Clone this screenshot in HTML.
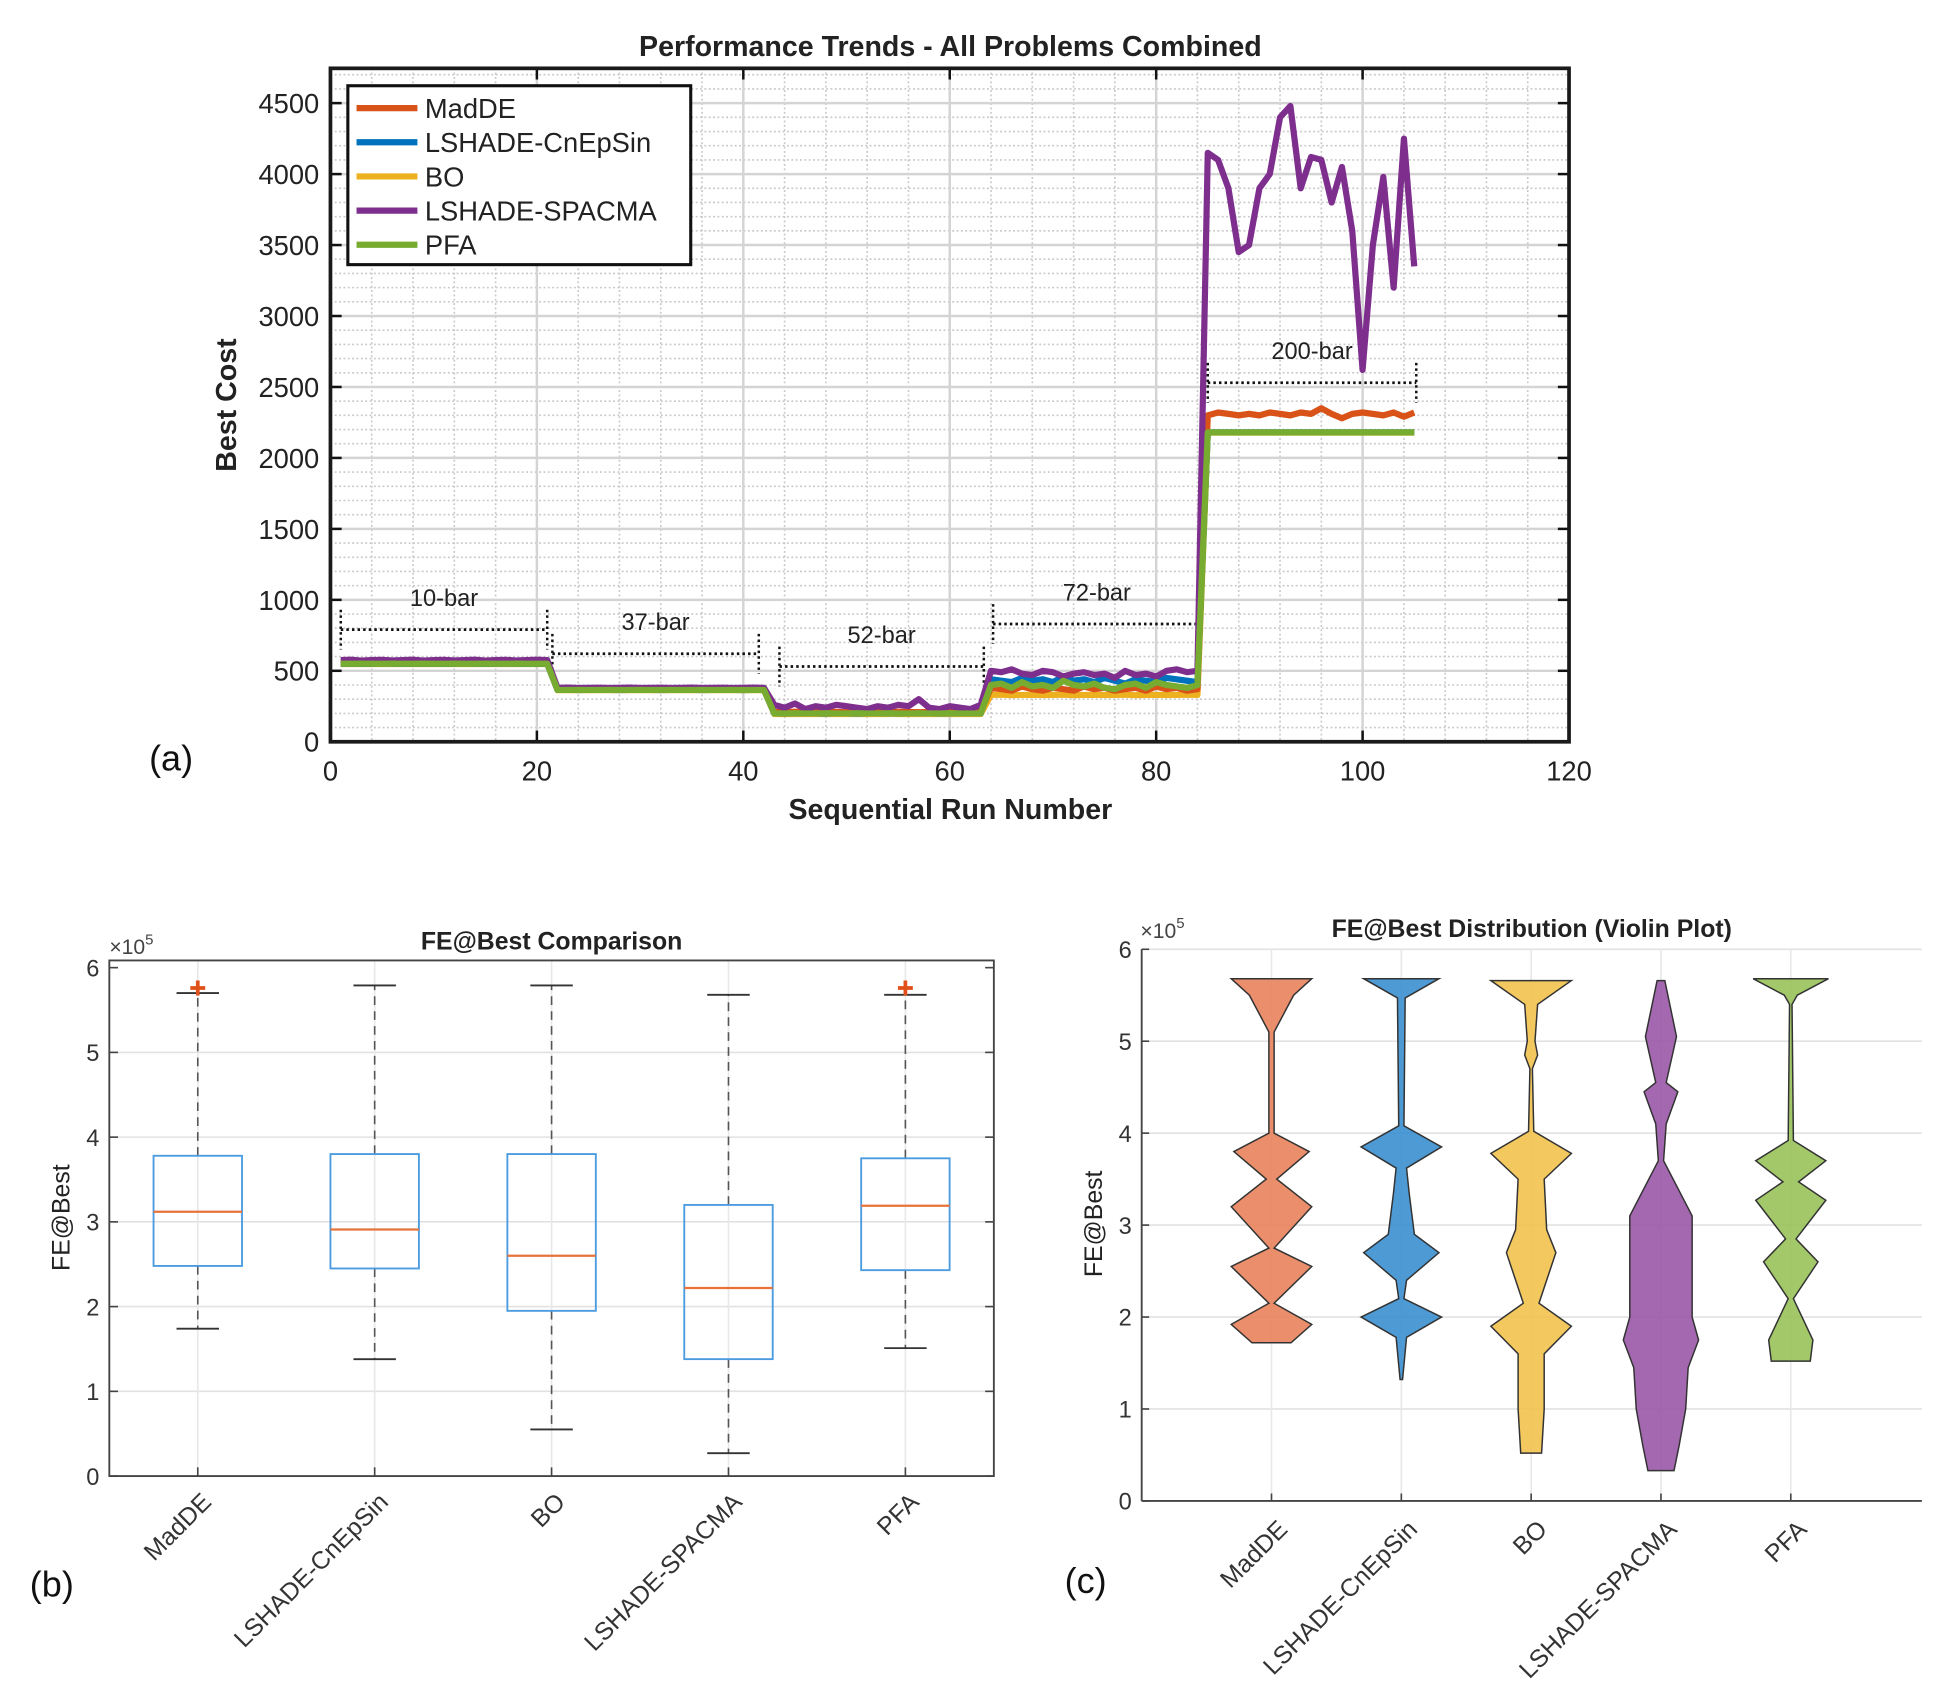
<!DOCTYPE html>
<html><head><meta charset="utf-8"><style>
html,body{margin:0;padding:0;background:#fff;}
svg{display:block;font-family:"Liberation Sans",Arial,sans-serif;}
</style></head><body>
<svg id="fig" width="1938" height="1696" viewBox="0 0 1560 1365" preserveAspectRatio="none" xmlns="http://www.w3.org/2000/svg">
<g id="pa"></g>
<g id="pb"></g>
<g id="pc"></g>
</svg>
<script>
// ===== Panel (a) data =====
const seriesNames = ["MadDE","LSHADE-CnEpSin","BO","LSHADE-SPACMA","PFA"];
const seriesColors = ["#D95319","#0072BD","#EDB120","#7E2F8E","#77AC30"];
const xTicksA = [0,20,40,60,80,100,120];
const yTicksA = [0,500,1000,1500,2000,2500,3000,3500,4000,4500];
const madde = [560,562,558,560,561,559,560,562,560,558,560,561,560,559,562,560,558,560,561,560,560,
 370,371,369,370,372,370,369,370,371,370,369,370,372,370,369,370,371,370,369,370,370,
 210,208,212,210,209,211,210,208,210,212,210,209,211,210,208,210,212,210,209,211,210,
 380,370,360,390,370,360,380,370,360,390,370,380,360,370,380,360,390,370,380,360,370,
 2300,2320,2310,2300,2310,2300,2320,2310,2300,2320,2310,2350,2310,2280,2310,2320,2310,2300,2320,2290,2320];
const cnepsin = [550,551,549,550,552,550,549,550,551,550,549,550,552,550,549,550,551,550,549,550,550,
 365,366,364,365,366,365,364,365,366,365,364,365,366,365,364,365,366,365,364,365,365,
 200,199,201,200,200,199,201,200,199,200,201,200,199,200,201,200,199,200,201,200,200,
 440,430,420,450,430,440,420,460,430,440,420,450,430,410,440,430,420,450,440,430,420,
 2180,2180,2180,2180,2180,2180,2180,2180,2180,2180,2180,2180,2180,2180,2180,2180,2180,2180,2180,2180,2180];
const bo = [548,548,549,548,548,549,548,548,549,548,548,549,548,548,549,548,548,549,548,548,548,
 363,363,364,363,363,364,363,363,364,363,363,364,363,363,364,363,363,364,363,363,363,
 195,195,196,195,195,196,195,195,196,195,195,196,195,195,196,195,195,196,195,195,195,
 330,332,328,330,331,329,330,332,328,330,331,329,330,332,328,330,331,329,330,332,330,
 2178,2178,2178,2178,2178,2178,2178,2178,2178,2178,2178,2178,2178,2178,2178,2178,2178,2178,2178,2178,2178];
const spacma = [575,578,572,575,577,573,575,578,572,575,577,573,575,578,572,575,577,573,575,578,575,
 380,382,379,380,381,379,380,382,379,380,381,379,380,382,379,380,381,379,380,382,380,
 260,240,270,230,250,240,260,250,240,230,250,240,260,250,300,240,230,250,240,230,260,
 500,490,510,480,470,500,490,460,480,490,470,480,450,500,470,480,460,500,510,490,500,
 4150,4100,3900,3450,3500,3900,4000,4400,4480,3900,4120,4100,3800,4050,3600,2620,3500,3980,3200,4250,3350];
const pfa = [550,550,551,550,550,551,550,550,551,550,550,551,550,550,551,550,550,551,550,550,550,
 365,365,366,365,365,366,365,365,366,365,365,366,365,365,366,365,365,366,365,365,365,
 200,200,201,200,200,201,200,200,201,200,200,201,200,200,201,200,200,201,200,200,200,
 400,410,380,420,390,400,380,430,400,390,410,380,370,400,410,380,420,400,390,380,400,
 2180,2180,2180,2180,2180,2180,2180,2180,2180,2180,2180,2180,2180,2180,2180,2180,2180,2180,2180,2180,2180];
const bracketLabels = ["10-bar","37-bar","52-bar","72-bar","200-bar"];
const bracketStart = [1,21.5,43.5,64.2,85];
const bracketEnd = [21,41.5,63.3,84.3,105.2];
const bracketLevel = [790,620,530,830,2530];

// ===== Panel (b) data (x1e5) =====
const algs = ["MadDE","LSHADE-CnEpSin","BO","LSHADE-SPACMA","PFA"];
const q1 = [2.48,2.45,1.95,1.38,2.43];
const med = [3.12,2.91,2.60,2.22,3.19];
const q3 = [3.78,3.80,3.80,3.20,3.75];
const wLo = [1.74,1.38,0.55,0.27,1.51];
const wHi = [5.70,5.79,5.79,5.68,5.68];
const outliers = [[5.76],[],[],[],[5.76]];
const yTicksB = [0,1,2,3,4,5,6];

// ===== Panel (c) data =====
const violinY = [
 [5.68,5.5,5.1,4.0,3.8,3.5,3.2,2.75,2.55,2.15,1.92,1.72],
 [5.68,5.47,4.08,3.85,3.62,3.35,2.9,2.7,2.4,2.2,2.0,1.78,1.32],
 [5.66,5.4,5.0,4.85,4.7,4.02,3.78,3.5,2.95,2.7,2.15,1.9,1.6,1.0,0.52],
 [5.66,5.05,4.55,4.45,4.1,3.7,3.1,2.0,1.75,1.45,1.0,0.6,0.33],
 [5.68,5.5,5.4,3.92,3.7,3.47,3.27,2.85,2.6,2.2,1.75,1.52]];
const violinW = [
 [0.31,0.17,0.02,0.02,0.29,0.04,0.31,0.02,0.31,0.02,0.31,0.15],
 [0.29,0.03,0.02,0.31,0.04,0.06,0.1,0.29,0.04,0.02,0.31,0.04,0.01],
 [0.31,0.05,0.03,0.05,0.01,0.02,0.31,0.1,0.12,0.19,0.06,0.31,0.1,0.1,0.08],
 [0.03,0.12,0.04,0.13,0.04,0.02,0.24,0.24,0.29,0.21,0.19,0.14,0.1],
 [0.29,0.05,0.01,0.02,0.27,0.06,0.27,0.04,0.21,0.02,0.17,0.15]];
const violinFill = ["#E8825C","#3A8FD0","#F2C24E","#9A58A8","#98C25A"];

const NS="http://www.w3.org/2000/svg";
function mk(parent,tag,attrs,txt){const e=document.createElementNS(NS,tag);for(const k in attrs)e.setAttribute(k,attrs[k]);if(txt!==undefined)e.textContent=txt;parent.appendChild(e);return e;}

// ---------- Panel A ----------
const pa=document.getElementById('pa');
const xA=v=>266+v*(997/120), yA=v=>597-v*(514/4500);
const AT=55,AB=597,AL=266,AR=1263;
for(let v=4;v<120;v+=4){if(v%20){const l=mk(pa,'line',{x1:xA(v),x2:xA(v),y1:AT,y2:AB,stroke:'#c8c8c8','stroke-width':1.3,'stroke-dasharray':'1.5 2'});}}
for(let v=100;v<4750;v+=100){if(v%500){const l=mk(pa,'line',{x1:AL,x2:AR,y1:yA(v),y2:yA(v),stroke:'#c8c8c8','stroke-width':1.3,'stroke-dasharray':'1.5 2'});}}
xTicksA.forEach(v=>{const l=mk(pa,'line',{x1:xA(v),x2:xA(v),y1:AT,y2:AB,stroke:'#d4d4d4','stroke-width':2});
 mk(pa,'line',{x1:xA(v),x2:xA(v),y1:AB,y2:AB-9,stroke:'#111','stroke-width':2});mk(pa,'line',{x1:xA(v),x2:xA(v),y1:AT,y2:AT+9,stroke:'#111','stroke-width':2});
 const t=mk(pa,'text',{x:xA(v),y:628,'text-anchor':'middle','font-size':22,fill:'#222'},v);});
yTicksA.forEach(v=>{const l=mk(pa,'line',{x1:AL,x2:AR,y1:yA(v),y2:yA(v),stroke:'#d4d4d4','stroke-width':2});
 mk(pa,'line',{x1:AL,x2:AL+9,y1:yA(v),y2:yA(v),stroke:'#111','stroke-width':2});mk(pa,'line',{x1:AR,x2:AR-9,y1:yA(v),y2:yA(v),stroke:'#111','stroke-width':2});
 const t=mk(pa,'text',{x:257,y:yA(v)+8,'text-anchor':'end','font-size':22,fill:'#222'},v);});
// brackets
bracketLabels.forEach((lab,i)=>{const g=mk(pa,'g',{});
 const x1=xA(bracketStart[i]),x2=xA(bracketEnd[i]),y=yA(bracketLevel[i]);
 mk(g,'line',{x1:x1,x2:x2,y1:y,y2:y,stroke:'#111','stroke-width':2.2,'stroke-dasharray':'2 2.5'});
 mk(g,'line',{x1:x1,x2:x1,y1:y-16,y2:y+16,stroke:'#111','stroke-width':2,'stroke-dasharray':'2 2.5'});
 mk(g,'line',{x1:x2,x2:x2,y1:y-16,y2:y+16,stroke:'#111','stroke-width':2,'stroke-dasharray':'2 2.5'});
 mk(g,'text',{x:(x1+x2)/2,y:y-19,'text-anchor':'middle','font-size':19,fill:'#222'},lab);});
// series
const allSeries=[madde,cnepsin,bo,spacma,pfa];
const drawOrder=[2,1,0,3,4];
drawOrder.forEach(si=>{const d=allSeries[si].map((v,i)=>(i?'L':'M')+xA(i+1).toFixed(1)+' '+yA(v).toFixed(1)).join(' ');
 const p=mk(pa,'path',{d:d,fill:'none',stroke:seriesColors[si],'stroke-width':5,'stroke-linejoin':'round'});
 });
mk(pa,'rect',{x:AL,y:AT,width:AR-AL,height:AB-AT,fill:'none',stroke:'#1a1a1a','stroke-width':3});
// legend
const lg=mk(pa,'g',{});
mk(lg,'rect',{x:280,y:69,width:276,height:144,fill:'#fff',stroke:'#111','stroke-width':2.5});
seriesNames.forEach((n,i)=>{const y=87+i*27.5;const e=mk(lg,'g',{});
 mk(e,'line',{x1:287,x2:336,y1:y,y2:y,stroke:seriesColors[i],'stroke-width':5});
 mk(e,'text',{x:342,y:y+8,'font-size':22,fill:'#222'},n);});
let t;
t=mk(pa,'text',{x:765,y:45,'text-anchor':'middle','font-size':23,'font-weight':'bold',fill:'#222'},'Performance Trends - All Problems Combined');
t=mk(pa,'text',{x:765,y:659,'text-anchor':'middle','font-size':23,'font-weight':'bold',fill:'#222'},'Sequential Run Number');
t=mk(pa,'text',{x:0,y:0,'text-anchor':'middle','font-size':23,'font-weight':'bold',fill:'#222',transform:'translate(190,326) rotate(-90)'},'Best Cost');
t=mk(pa,'text',{x:120,y:620,'font-size':29,fill:'#111'},'(a)');

// ---------- Panel B ----------
const pb=document.getElementById('pb');
const BL=88,BR=800,BT=773,BB=1188;
const xB=i=>BL+(i+0.5)*142.4, yB=v=>BB-v*68.2;
yTicksB.forEach(v=>{if(v>0&&v<6)mk(pb,'line',{x1:BL,x2:BR,y1:yB(v),y2:yB(v),stroke:'#e2e2e2','stroke-width':1.3});
 mk(pb,'line',{x1:BL,x2:BL+7,y1:yB(v),y2:yB(v),stroke:'#444','stroke-width':1.3});mk(pb,'line',{x1:BR,x2:BR-7,y1:yB(v),y2:yB(v),stroke:'#444','stroke-width':1.3});
 const t=mk(pb,'text',{x:80,y:yB(v)+7,'text-anchor':'end','font-size':19,fill:'#333'},v);});
algs.forEach((a,i)=>{const x=xB(i);mk(pb,'line',{x1:x,x2:x,y1:BT,y2:BB,stroke:'#e8e8e8','stroke-width':1.3});
 const g=mk(pb,'g',{});
 const hw=0.25*142.4,cw=0.12*142.4;
 mk(g,'line',{x1:x,x2:x,y1:yB(q3[i]),y2:yB(wHi[i]),stroke:'#555','stroke-width':1.3,'stroke-dasharray':'7 5'});
 mk(g,'line',{x1:x,x2:x,y1:yB(q1[i]),y2:yB(wLo[i]),stroke:'#555','stroke-width':1.3,'stroke-dasharray':'7 5'});
 mk(g,'line',{x1:x-cw,x2:x+cw,y1:yB(wHi[i]),y2:yB(wHi[i]),stroke:'#333','stroke-width':1.5});
 mk(g,'line',{x1:x-cw,x2:x+cw,y1:yB(wLo[i]),y2:yB(wLo[i]),stroke:'#333','stroke-width':1.5});
 mk(g,'rect',{x:x-hw,y:yB(q3[i]),width:2*hw,height:yB(q1[i])-yB(q3[i]),fill:'none',stroke:'#4A9BE0','stroke-width':1.5});
 mk(g,'line',{x1:x-hw,x2:x+hw,y1:yB(med[i]),y2:yB(med[i]),stroke:'#E8733A','stroke-width':1.8});
 outliers[i].forEach(o=>{const y=yB(o);mk(g,'path',{d:`M${x-6} ${y}H${x+6}M${x} ${y-6}V${y+6}`,stroke:'#E0501A','stroke-width':3});});
 mk(pb,'line',{x1:x,x2:x,y1:BB,y2:BB-7,stroke:'#444','stroke-width':1.3});
 const t=mk(pb,'text',{x:0,y:0,'text-anchor':'end','font-size':20,fill:'#333',transform:`translate(${x+12},${BB+22}) rotate(-45)`},a);});
mk(pb,'rect',{x:BL,y:BT,width:BR-BL,height:BB-BT,fill:'none',stroke:'#444','stroke-width':1.5});
t=mk(pb,'text',{x:88,y:768,'font-size':17,fill:'#444'},'×10');mk(t,'tspan',{dy:-8,'font-size':12},'5');
t=mk(pb,'text',{x:444,y:764,'text-anchor':'middle','font-size':20,'font-weight':'bold',fill:'#222'},'FE@Best Comparison');
t=mk(pb,'text',{x:0,y:0,'text-anchor':'middle','font-size':20,fill:'#222',transform:'translate(56,980) rotate(-90)'},'FE@Best');
t=mk(pb,'text',{x:24,y:1285,'font-size':29,fill:'#111'},'(b)');

// ---------- Panel C ----------
const pc=document.getElementById('pc');
const CL=919,CR=1547,CT=764,CB=1208,SP=104.5;
const xC=i=>CL+(i+1)*SP, yC=v=>CB-v*74;
yTicksB.forEach(v=>{if(v>0)mk(pc,'line',{x1:CL,x2:CR,y1:yC(v),y2:yC(v),stroke:'#e2e2e2','stroke-width':1.3});
 mk(pc,'line',{x1:CL,x2:CL+6,y1:yC(v),y2:yC(v),stroke:'#444','stroke-width':1.3});
 const t=mk(pc,'text',{x:911,y:yC(v)+7,'text-anchor':'end','font-size':19,fill:'#333'},v);});
algs.forEach((a,i)=>{const x=xC(i);mk(pc,'line',{x1:x,x2:x,y1:CT,y2:CB,stroke:'#e8e8e8','stroke-width':1.3});
 const ys=violinY[i],ws=violinW[i];
 const right=ys.map((y,k)=>[x+ws[k]*SP,yC(y)]);const left=ys.map((y,k)=>[x-ws[k]*SP,yC(y)]).reverse();
 const pts=right.concat(left).map(p=>p[0].toFixed(1)+','+p[1].toFixed(1)).join(' ');
 const p=mk(pc,'polygon',{points:pts,fill:violinFill[i],'fill-opacity':0.9,stroke:'#333','stroke-width':1.2});
 
 mk(pc,'line',{x1:x,x2:x,y1:CB,y2:CB-6,stroke:'#444','stroke-width':1.3});
 const t=mk(pc,'text',{x:0,y:0,'text-anchor':'end','font-size':20,fill:'#333',transform:`translate(${x+14},${CB+24}) rotate(-45)`},a);});
mk(pc,'line',{x1:CL,x2:CL,y1:CT,y2:CB,stroke:'#444','stroke-width':1.5});
mk(pc,'line',{x1:CL,x2:CR,y1:CB,y2:CB,stroke:'#444','stroke-width':1.5});
t=mk(pc,'text',{x:918,y:755,'font-size':17,fill:'#444'},'×10');mk(t,'tspan',{dy:-8,'font-size':12},'5');
t=mk(pc,'text',{x:1233,y:754,'text-anchor':'middle','font-size':20,'font-weight':'bold',fill:'#222'},'FE@Best Distribution (Violin Plot)');
t=mk(pc,'text',{x:0,y:0,'text-anchor':'middle','font-size':20,fill:'#222',transform:'translate(887,985) rotate(-90)'},'FE@Best');
t=mk(pc,'text',{x:857,y:1282,'font-size':29,fill:'#111'},'(c)');
</script>
</body></html>
